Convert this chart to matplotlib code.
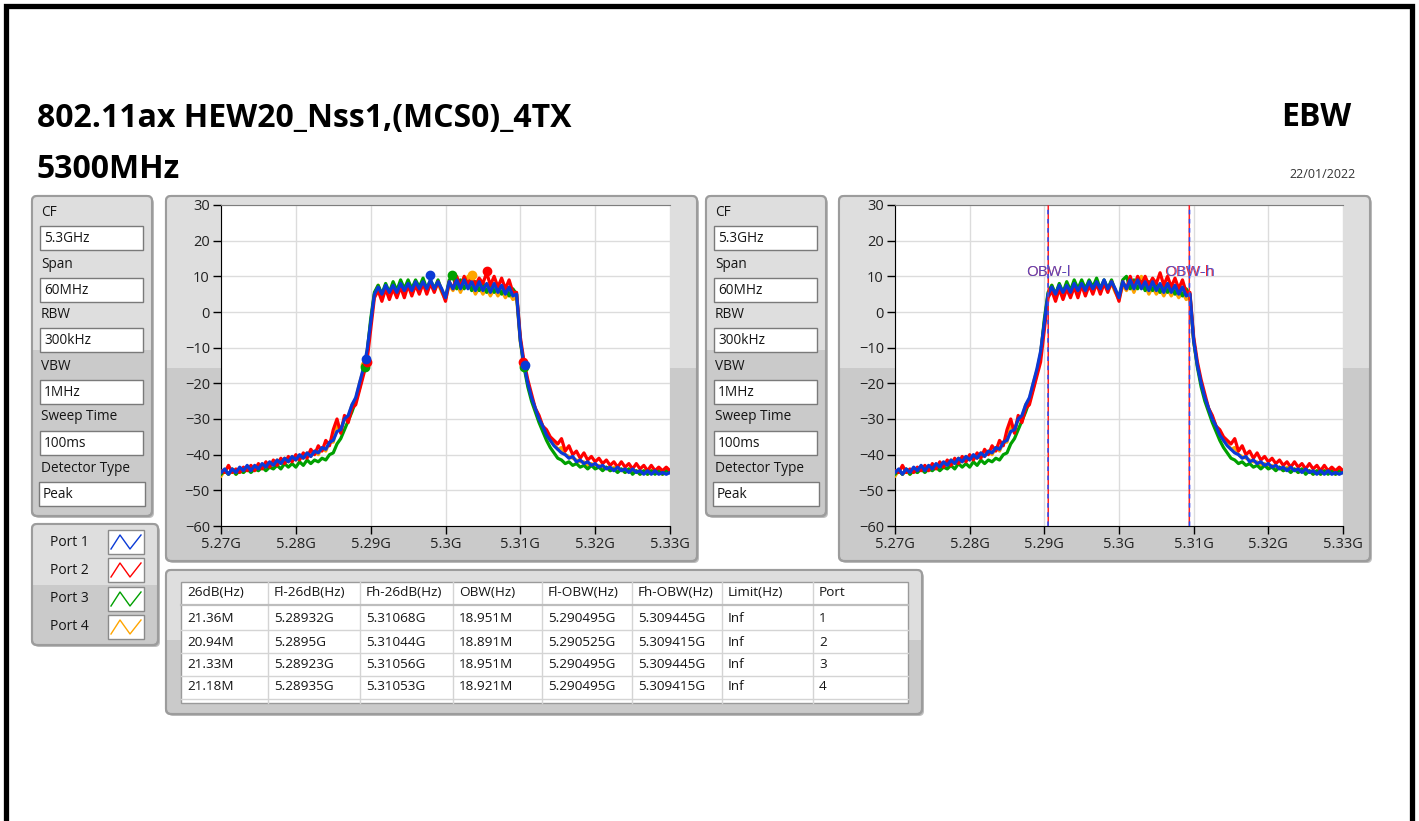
import matplotlib
matplotlib.use('Agg')
import matplotlib.pyplot as plt
from matplotlib.patches import FancyBboxPatch, Rectangle
import numpy as np

plt.rcParams['font.family'] = ['Open Sans', 'DejaVu Sans']

# ---- data ----
freq_mhz = [5270.0 + 0.5 * i for i in range(121)]   # 0.5 MHz grid, 5.27G .. 5.33G

port1 = [-45, -44, -45.5, -44, -45, -43.5, -44.5, -43, -44.5, -43,
         -44, -42.5, -43.5, -42, -43, -41.5, -42.5, -41, -42, -40.5,
         -41.5, -40, -41, -39.5, -40.5, -39, -39.5, -38, -38.5, -36.5,
         -36, -33.5, -33, -30, -29, -26, -24, -20, -16, -11,
         -3, 5, 7, 5, 7.5, 5.5, 7.5, 5.5, 8, 6,
         8, 6, 8.5, 6.5, 8.5, 6.5, 9, 6.5, 8.5, 6.5,
         4, 8.5, 6.5, 9, 6.5, 9, 6.5, 8.5, 6, 8.5,
         6, 8, 5.5, 8, 5.5, 7.5, 5, 7, 4.5, 5,
         -8, -15, -20, -24, -27, -30, -32, -34.5, -36, -37.5,
         -38.5, -39.5, -40, -41, -40.5, -42, -41.5, -42.5, -42, -43,
         -42.5, -43.5, -43, -44, -43.5, -44.5, -43.5, -44.5, -44, -45,
         -44, -45, -44.5, -45.5, -44.5, -45.5, -44.5, -45.5, -45, -45.5,
         -45]
port2 = [-44.5, -45, -43, -45, -44, -45, -43.5, -44.5, -43, -44.5,
         -42.5, -44, -42, -43.5, -41.5, -43, -41, -42.5, -40.5, -42,
         -40, -41.5, -39.5, -41, -38.5, -40, -37.5, -39, -36, -37.5,
         -33, -30, -34, -29, -31, -27, -26, -22, -18, -14,
         -5, 4, 6, 3, 6.5, 3.5, 6.5, 4, 7, 4,
         7.5, 4.5, 7.5, 5, 8, 5, 8, 5.5, 8.5, 6,
         3, 8.5, 6.5, 10, 7, 10, 7.5, 10, 7.5, 9.5,
         8, 11, 7.5, 10, 7, 9.5, 6.5, 9, 5.5, 5.5,
         -7, -14, -19, -23, -27, -29, -32, -33, -35, -36,
         -37, -35.5, -39, -37.5, -40, -39, -41, -39.5, -41.5, -40.5,
         -42, -41, -42.5, -41.5, -43, -42, -43.5, -42, -43.5, -42.5,
         -44, -42.5, -44, -43, -44.5, -43, -44.5, -43.5, -44.5, -43.5,
         -44.5]
port3 = [-45.5, -44.5, -45.5, -44, -45.5, -44.5, -45, -44, -45, -44,
         -44.5, -43.5, -44.5, -43.5, -44, -43, -44, -42.5, -43.5, -42.5,
         -43.5, -42, -43, -41.5, -42.5, -41.5, -42, -41, -41.5, -40,
         -39.5, -37, -35.5, -33, -30.5, -28, -25, -21.5, -17, -12,
         -2, 5.5, 7.5, 5, 8, 5.5, 8.5, 6, 9, 6.5,
         9, 6.5, 9, 7, 9.5, 6.5, 9, 6.5, 9, 6,
         4, 9, 10, 6.5, 9, 6.5, 8.5, 6, 8.5, 6,
         8, 5.5, 8, 5.5, 7.5, 5, 7, 4.5, 6.5, 5,
         -8, -15.5, -21, -25, -28, -31, -33.5, -36, -38, -39.5,
         -41, -41.5, -42.5, -42, -43, -42.5, -43.5, -43, -44, -43,
         -44, -43.5, -44.5, -43.5, -44.5, -44, -45, -44, -45, -44,
         -45.5, -44.5, -45.5, -44.5, -45.5, -44.5, -45.5, -44.5, -45.5, -44.5,
         -45]
port4 = [-46, -44.5, -45.5, -44.5, -45.5, -44, -45, -43.5, -44.5, -43.5,
         -44, -43, -43.5, -42.5, -43, -41.5, -42.5, -41, -42, -40.5,
         -41.5, -40.5, -41, -39.5, -40.5, -39, -40, -38, -39, -36.5,
         -36.5, -32, -33, -30, -29.5, -26, -24.5, -20, -16.5, -11.5,
         -3, 5, 7.5, 4.5, 7.5, 5, 8, 5.5, 8.5, 5.5,
         8, 6, 8.5, 6, 8.5, 6.5, 8.5, 6, 8, 5.5,
         3.5, 7.5, 6, 8, 5.5, 8, 10, 7.5, 5, 7,
         5, 6.5, 4.5, 6.5, 4.5, 6, 4, 5.5, 3.5, 4,
         -8.5, -15, -20, -24, -27, -29.5, -32, -34, -36, -37,
         -38.5, -38, -40, -40.5, -41, -41.5, -42, -42, -43, -42.5,
         -43.5, -43, -44, -43.5, -44.5, -43.5, -44.5, -44, -45, -44,
         -45, -44.5, -45.5, -44.5, -45.5, -44.5, -45, -44.5, -45.5, -44,
         -45]

port_names = ['Port 1', 'Port 2', 'Port 3', 'Port 4']
port_colors = ['#0a3ad6', '#ff0000', '#00a000', '#ffa500']

# peak markers and -26 dB markers (left graph)
peak_f = [5297.95, 5305.6, 5300.9, 5303.55]
peak_db = [10.3, 11.4, 10.4, 10.3]
low26_f = [5289.35, 5289.5, 5289.25, 5289.3]
low26_db = [-13.3, -14.0, -15.5, -15.0]
high26_f = [5310.6, 5310.35, 5310.55, 5310.5]
high26_db = [-14.9, -14.0, -15.5, -15.0]

# OBW cursors (right graph), port 1 and port 2
obw_low = [5290.495, 5290.525]
obw_high = [5309.445, 5309.415]

x_ticks = [5270, 5280, 5290, 5300, 5310, 5320, 5330]
x_labels = ['5.27G', '5.28G', '5.29G', '5.3G', '5.31G', '5.32G', '5.33G']
y_ticks = [30, 20, 10, 0, -10, -20, -30, -40, -50, -60]

param_labels = ['CF', 'Span', 'RBW', 'VBW', 'Sweep Time', 'Detector Type']
param_values = ['5.3GHz', '60MHz', '300kHz', '1MHz', '100ms', 'Peak']

table_header = ['26dB(Hz)', 'Fl-26dB(Hz)', 'Fh-26dB(Hz)', 'OBW(Hz)',
                'Fl-OBW(Hz)', 'Fh-OBW(Hz)', 'Limit(Hz)', 'Port']
bw26 = ['21.36M', '20.94M', '21.33M', '21.18M']
fl26 = ['5.28932G', '5.2895G', '5.28923G', '5.28935G']
fh26 = ['5.31068G', '5.31044G', '5.31056G', '5.31053G']
obw = ['18.951M', '18.891M', '18.951M', '18.921M']
fl_obw = ['5.290495G', '5.290525G', '5.290495G', '5.290495G']
fh_obw = ['5.309445G', '5.309415G', '5.309445G', '5.309415G']
limit = ['Inf', 'Inf', 'Inf', 'Inf']
port_no = ['1', '2', '3', '4']

W, H = 1419, 821
LIGHT = '#dedede'
DARK = '#cacaca'
TXT = '#151515'

fig = plt.figure(figsize=(W / 100, H / 100), dpi=100)
fig.patch.set_facecolor('white')
bg = fig.add_axes([0, 0, 1, 1])
bg.set_xlim(0, W)
bg.set_ylim(H, 0)
bg.axis('off')

# outer black frame (bottom cut off)
bg.plot([5.5, 5.5, 1412, 1412], [H + 5, 6, 6, H + 5], color='black', lw=3.8,
        solid_joinstyle='miter')


def panel(x0, y0, x1, y1, split):
    shadow = FancyBboxPatch((x0 + 2, y0 + 2), x1 - x0, y1 - y0,
                            boxstyle='round,pad=0,rounding_size=5',
                            fc='#bdbdbd', ec='none', zorder=1)
    bg.add_patch(shadow)
    box = FancyBboxPatch((x0, y0), x1 - x0, y1 - y0,
                         boxstyle='round,pad=0,rounding_size=5',
                         fc=DARK, ec='#9c9c9c', lw=1.5, zorder=2)
    bg.add_patch(box)
    top = Rectangle((x0, y0), x1 - x0, split - y0, fc=LIGHT, ec='none', zorder=2.1)
    bg.add_patch(top)
    top.set_clip_path(box)
    rim = FancyBboxPatch((x0, y0), x1 - x0, y1 - y0,
                         boxstyle='round,pad=0,rounding_size=5',
                         fc='none', ec='#9c9c9c', lw=1.5, zorder=2.2)
    bg.add_patch(rim)


def param_panel(x0, x1):
    panel(x0, 196, x1, 516, 350)
    label_y = [212, 264, 314, 366, 417, 468]
    for k, (lab, val) in enumerate(zip(param_labels, param_values)):
        bg.text(x0 + 9, label_y[k], lab, fontsize=9.8, color=TXT,
                va='center', ha='left', zorder=5)
        bx0 = x0 + 8 if k < 5 else x0 + 7
        bx1 = x1 - 9 if k < 5 else x1 - 7
        by = label_y[k] + 14
        bg.add_patch(Rectangle((bx0, by), bx1 - bx0, 24, fc='white',
                               ec='#7a7a7a', lw=1.0, zorder=4))
        bg.text(bx0 + 4, by + 12.5, val, fontsize=9.8, color=TXT,
                va='center', ha='left', zorder=5)


def chart(x0, px0, px1, markers):
    panel(x0, 196, x0 + 531, 561, 368)
    ax = fig.add_axes([px0 / W, 1 - 526 / H, (px1 - px0) / W, (526 - 205) / H])
    ax.set_facecolor('white')
    f_ghz = np.array(freq_mhz) / 1000.0
    for series, col in list(zip([port1, port2, port3, port4], port_colors))[::-1]:
        ax.plot(f_ghz, series, color=col, lw=2.3, zorder=3)
    if markers:
        for k in [3, 2, 1, 0]:
            col = port_colors[k]
            ax.plot([peak_f[k] / 1000], [peak_db[k]], 'o', color=col, ms=6, zorder=4)
            ax.plot([low26_f[k] / 1000], [low26_db[k]], 'o', color=col, ms=6, zorder=4)
            ax.plot([high26_f[k] / 1000], [high26_db[k]], 'o', color=col, ms=6, zorder=4)
    else:
        for fl, fh, col, ls in [(obw_low[1], obw_high[1], '#ff2020', '-'),
                                (obw_low[0], obw_high[0], '#2050ff', (0, (3, 3)))]:
            ax.axvline(fl / 1000, color=col, lw=1.1, ls=ls, zorder=5, snap=False)
            ax.axvline(fh / 1000, color=col, lw=1.1, ls=ls, zorder=5, snap=False)
        for lab, xf in [('OBW-l', obw_low[0]), ('OBW-h', obw_high[0])]:
            ax.text(xf / 1000, 11.2, lab, color='#ff2a2a', fontsize=11,
                    ha='center', va='center', zorder=6)
            ax.text(xf / 1000 + 0.00012, 11.0, lab, color='#3050e0', fontsize=11,
                    ha='center', va='center', zorder=6, alpha=0.8)
    ax.set_xlim(5.27, 5.33)
    ax.set_ylim(-60, 30)
    ax.set_xticks([t / 1000 for t in x_ticks])
    ax.set_xticklabels(x_labels)
    ax.set_yticks(y_ticks)
    ax.grid(True, color='#dcdcdc', lw=1.0)
    ax.set_axisbelow(True)
    ax.tick_params(axis='both', direction='out', length=6, width=1,
                   labelsize=10.5, labelcolor='#222222', pad=2)
    for side in ['left', 'bottom']:
        ax.spines[side].set_color('black')
    ax.spines['top'].set_color('#7d7d7d')
    ax.spines['right'].set_visible(False)
    return ax


# titles
bg.text(37, 118, '802.11ax HEW20_Nss1,(MCS0)_4TX', fontsize=23,
        fontweight='bold', va='center', ha='left', color='black')
bg.text(1351, 118, 'EBW', fontsize=23, fontweight='bold', va='center',
        ha='right', color='black')
bg.text(37, 170, '5300MHz', fontsize=23, fontweight='bold', va='center',
        ha='left', color='black')
bg.text(1356, 175, '22/01/2022', fontsize=9, va='center', ha='right',
        color='#333333')

param_panel(32, 152)
param_panel(706, 826)

# port legend
panel(32, 524, 158, 645, 585)
legend_y = [542, 570, 599, 627]
for k, name in enumerate(port_names):
    bg.text(50, legend_y[k], name, fontsize=10, color=TXT,
            va='center', ha='left', zorder=5)
    bg.add_patch(Rectangle((108, legend_y[k] - 12), 36, 24, fc='white',
                           ec='#8a8a8a', lw=1.0, zorder=4))
    bg.plot([111, 120, 130, 141], [legend_y[k] + 7, legend_y[k] - 7,
                                   legend_y[k] + 7, legend_y[k] - 7],
            color=port_colors[k], lw=1.0, zorder=5)

chart(166, 221, 670, True)
chart(839, 895, 1343, False)

# result table
panel(166, 570, 922, 714, 640)
bg.add_patch(Rectangle((181, 582), 727, 121, fc='white', ec='#9a9a9a', lw=1.0, zorder=4))
col_x = [181, 268, 360, 453, 542, 632, 722, 813, 908]
for cx in col_x[1:-1]:
    bg.plot([cx, cx], [582, 703], color='#d4d4d4', lw=1.0, zorder=5)
for ry in [605, 630, 653, 676, 699]:
    bg.plot([181, 908], [ry, ry], color='#d4d4d4' if ry != 605 else '#bdbdbd',
            lw=1.0 if ry != 605 else 1.6, zorder=5)
row_y = [619, 642, 664, 687]
for j, head in enumerate(table_header):
    bg.text(col_x[j] + 6, 593, head, fontsize=9.7, color=TXT,
            va='center', ha='left', zorder=6)
columns = [bw26, fl26, fh26, obw, fl_obw, fh_obw, limit, port_no]
for j, col in enumerate(columns):
    for i, val in enumerate(col):
        bg.text(col_x[j] + 6, row_y[i], val, fontsize=9.7, color=TXT,
                va='center', ha='left', zorder=6)

plt.savefig('out.png', dpi=100, facecolor='white')
